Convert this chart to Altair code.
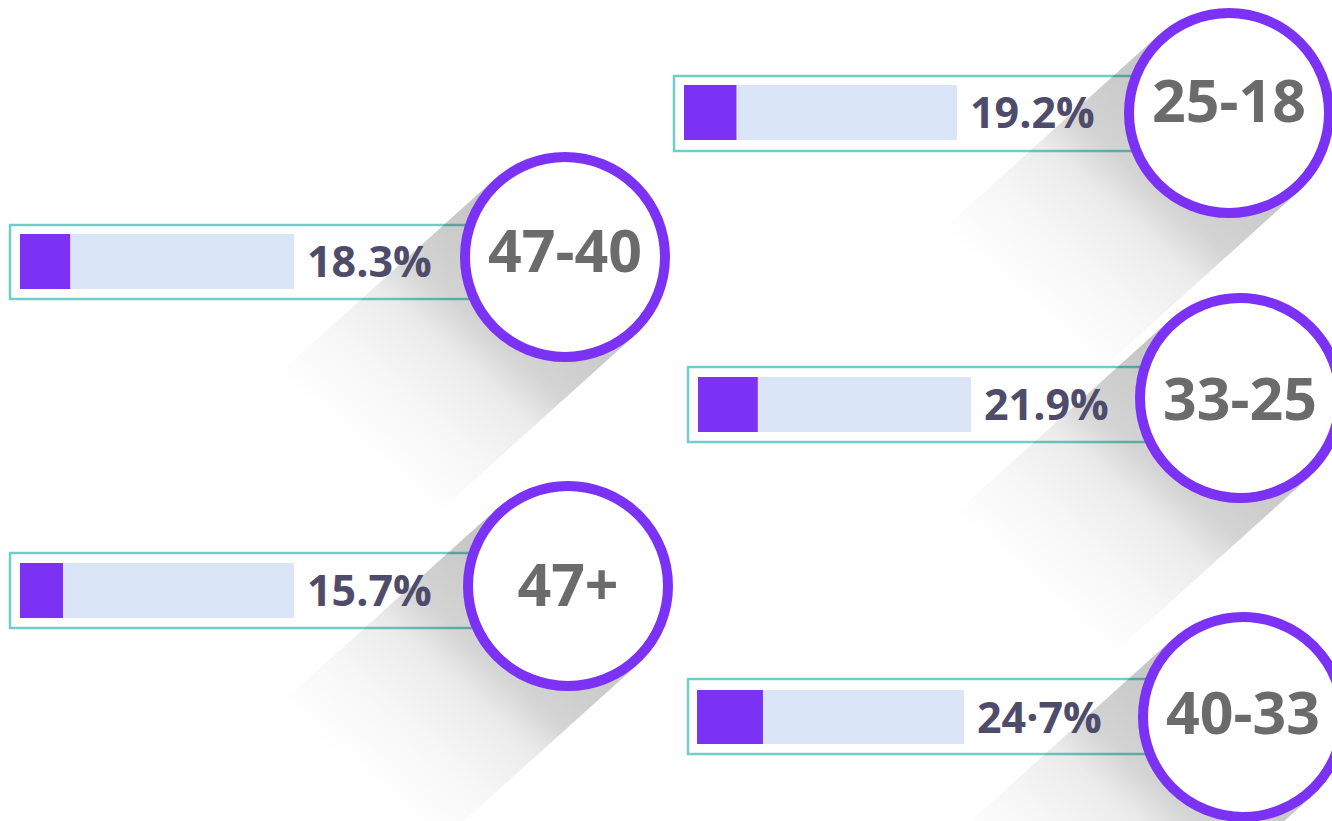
import math
import altair as alt
import pandas as pd

W, H = 1332, 821

# ---- data ----
age_groups = ["25-18", "47-40", "33-25", "40-33", "47+"]
shares = [19.2, 18.3, 21.9, 24.7, 15.7]
share_labels = ["19.2%", "18.3%", "21.9%", "24·7%", "15.7%"]

# ---- layout (pixel positions of each card) ----
circle_x = [1229, 565, 1240, 1243, 568]
circle_y = [113, 257, 398, 717, 586]
age_text_y = [122, 272, 420, 734, 606]
box_left = [674, 10, 688, 688, 10]
box_top = [76, 225, 367, 679, 553]
box_bottom = [151, 299, 442, 754, 628]
track_left = [684, 20, 698, 697, 20]
track_right = [957, 294, 971, 964, 294]
track_top = [85, 234, 377, 690, 563]
track_bottom = [140, 289, 432, 744, 618]

PURPLE = "#7b32f4"
TEAL = "#6fcfc7"
TRACK = "#dae6f8"
LABEL = "#4e4c6a"
GRAY = "#6b6b6b"
FONT = "Open Sans"

df = pd.DataFrame({
    "age": age_groups,
    "share": shares,
    "label": share_labels,
    "cx": circle_x,
    "cy": circle_y,
    "ty": age_text_y,
    "bl": box_left,
    "bt": box_top,
    "bb": box_bottom,
    "tl": track_left,
    "tr": track_right,
    "tt": track_top,
    "tb": track_bottom,
})

# shadow bands: from circle centre towards lower-left
L = 285
ang = math.radians(42)
srows = []
for a, cx, cy in zip(age_groups, circle_x, circle_y):
    srows.append({"age": a, "step": 0, "sx": cx, "sy": cy})
    srows.append({"age": a, "step": 1, "sx": cx - L * math.cos(ang), "sy": cy + L * math.sin(ang)})
sdf = pd.DataFrame(srows)

xs = alt.Scale(domain=[0, W], nice=False, zero=False)
ys = alt.Scale(domain=[0, H], nice=False, zero=False, reverse=True)


def X(f):
    return alt.X(f"{f}:Q", scale=xs, axis=None)


def Y(f):
    return alt.Y(f"{f}:Q", scale=ys, axis=None)


base = alt.Chart(df)

boxes = base.mark_rect(fillOpacity=0, stroke=TEAL, strokeWidth=2.5).encode(
    x=X("bl"), x2="cx", y=Y("bt"), y2="bb"
)

shadows = alt.Chart(sdf).mark_line(
    strokeWidth=210,
    strokeCap="butt",
    stroke=alt.Gradient(
        gradient="linear",
        stops=[
            alt.GradientStop(color="rgba(0,0,0,0.24)", offset=0),
            alt.GradientStop(color="rgba(0,0,0,0.17)", offset=0.38),
            alt.GradientStop(color="rgba(0,0,0,0.08)", offset=0.52),
            alt.GradientStop(color="rgba(0,0,0,0.03)", offset=0.75),
            alt.GradientStop(color="rgba(0,0,0,0)", offset=1),
        ],
        x1=1, y1=0, x2=0, y2=1,
    ),
).encode(x=X("sx"), y=Y("sy"), detail="age:N", order="step:Q")

tracks = base.mark_rect(color=TRACK).encode(
    x=X("tl"), x2="tr", y=Y("tt"), y2="tb"
)

fills = base.transform_calculate(
    fe="datum.tl + datum.share / 100 * (datum.tr - datum.tl)"
).mark_rect(color=PURPLE).encode(x=X("tl"), x2="fe:Q", y=Y("tt"), y2="tb")

labels = base.transform_calculate(
    lx="datum.tr + 13", ly="(datum.tt + datum.tb) / 2 + 15.5"
).mark_text(
    font=FONT, fontWeight="bold", fontSize=43, color=LABEL,
    align="left", baseline="alphabetic",
).encode(x=X("lx"), y=Y("ly"), text="label:N")

circles = base.mark_point(
    shape="circle", filled=True, fill="white", stroke=PURPLE,
    strokeWidth=10, size=40000, opacity=1, fillOpacity=1, strokeOpacity=1,
).encode(x=X("cx"), y=Y("cy"))

ages = base.mark_text(
    font=FONT, fontWeight="bold", fontSize=59, color=GRAY,
    align="center", baseline="alphabetic",
).encode(x=X("cx"), y=Y("ty"), text="age:N")

chart = alt.layer(boxes, shadows, tracks, fills, labels, circles, ages).properties(
    width=W, height=H, padding=0, autosize="none", background="white"
).configure_view(stroke=None)

chart.save("out.html", embed_options={"renderer": "svg", "actions": False})
